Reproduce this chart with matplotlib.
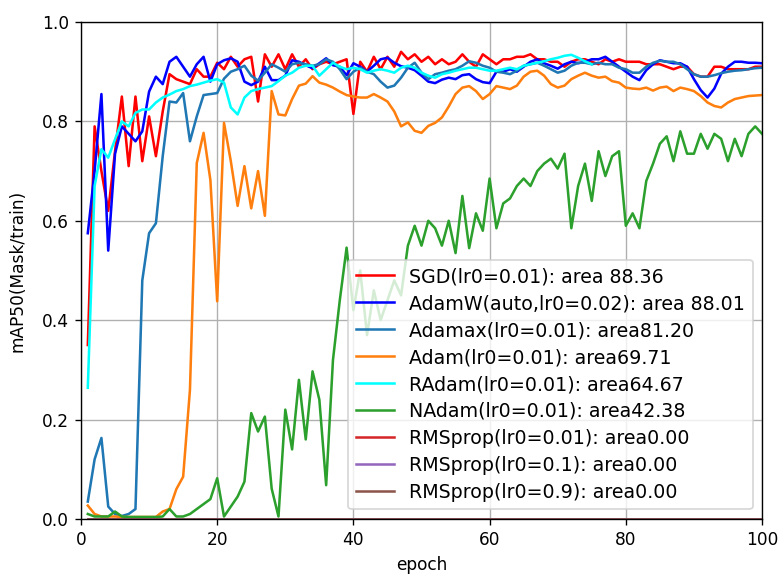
import matplotlib
matplotlib.use("Agg")
import matplotlib.pyplot as plt
import numpy as np

# mAP50(Mask/train) per epoch for each optimizer run
sgd = [0.35, 0.79, 0.70, 0.62, 0.74, 0.85, 0.71, 0.85, 0.72, 0.81,
       0.73, 0.82, 0.895, 0.885, 0.88, 0.875, 0.905, 0.89, 0.89, 0.918,
       0.905, 0.93, 0.91, 0.925, 0.93, 0.84, 0.935, 0.91, 0.935, 0.905,
       0.935, 0.91, 0.925, 0.905, 0.915, 0.92, 0.915, 0.92, 0.925, 0.815,
       0.92, 0.90, 0.93, 0.905, 0.93, 0.91, 0.94, 0.925, 0.935, 0.92,
       0.93, 0.915, 0.925, 0.915, 0.92, 0.935, 0.92, 0.91, 0.935, 0.925,
       0.915, 0.925, 0.925, 0.93, 0.93, 0.935, 0.925, 0.925, 0.92, 0.92,
       0.91, 0.92, 0.925, 0.925, 0.92, 0.915, 0.925, 0.92, 0.925, 0.92,
       0.92, 0.92, 0.915, 0.915, 0.915, 0.91, 0.905, 0.91, 0.91, 0.895,
       0.89, 0.89, 0.91, 0.91, 0.905, 0.905, 0.905, 0.905, 0.91, 0.91]
adamw = [0.575, 0.70, 0.855, 0.54, 0.735, 0.79, 0.775, 0.76, 0.78, 0.86,
         0.89, 0.875, 0.92, 0.93, 0.91, 0.89, 0.915, 0.93, 0.88, 0.915,
         0.923, 0.927, 0.92, 0.88, 0.873, 0.88, 0.91, 0.883, 0.883, 0.892,
         0.923, 0.92, 0.913, 0.907, 0.917, 0.927, 0.913, 0.91, 0.893, 0.917,
         0.91, 0.90, 0.912, 0.925, 0.928, 0.918, 0.911, 0.908, 0.903, 0.892,
         0.88, 0.877, 0.884, 0.888, 0.885, 0.893, 0.895, 0.885, 0.879, 0.877,
         0.90, 0.90, 0.905, 0.90, 0.91, 0.92, 0.925, 0.917, 0.912, 0.906,
         0.915, 0.92, 0.917, 0.92, 0.925, 0.925, 0.93, 0.92, 0.91, 0.90,
         0.89, 0.883, 0.903, 0.915, 0.923, 0.92, 0.917, 0.917, 0.91, 0.885,
         0.863, 0.848, 0.866, 0.896, 0.91, 0.92, 0.92, 0.918, 0.918, 0.917]
adamax = [0.035, 0.12, 0.163, 0.025, 0.01, 0.006, 0.01, 0.02, 0.48, 0.575,
          0.595, 0.73, 0.84, 0.838, 0.857, 0.76, 0.81, 0.853, 0.855, 0.857,
          0.886, 0.90, 0.905, 0.912, 0.892, 0.882, 0.898, 0.915, 0.908, 0.90,
          0.915, 0.918, 0.915, 0.912, 0.915, 0.925, 0.92, 0.905, 0.885, 0.90,
          0.908, 0.90, 0.895, 0.88, 0.868, 0.872, 0.888, 0.908, 0.918, 0.898,
          0.885, 0.895, 0.898, 0.902, 0.905, 0.912, 0.921, 0.918, 0.912, 0.908,
          0.90, 0.898, 0.895, 0.902, 0.912, 0.915, 0.918, 0.912, 0.905, 0.898,
          0.902, 0.912, 0.918, 0.918, 0.915, 0.918, 0.915, 0.915, 0.908, 0.905,
          0.898, 0.898, 0.91, 0.918, 0.922, 0.92, 0.92, 0.915, 0.905, 0.895,
          0.89, 0.89, 0.893, 0.897, 0.90, 0.902, 0.903, 0.905, 0.907, 0.908]
adam = [0.027, 0.01, 0.005, 0.005, 0.005, 0.004, 0.004, 0.004, 0.004, 0.004,
        0.004, 0.015, 0.02, 0.06, 0.085, 0.26, 0.716, 0.777, 0.682, 0.438,
        0.797, 0.72, 0.63, 0.71, 0.625, 0.70, 0.61, 0.861, 0.814, 0.812,
        0.845, 0.872, 0.876, 0.891, 0.878, 0.874, 0.868, 0.86, 0.853, 0.85,
        0.848, 0.848, 0.855, 0.848, 0.84, 0.82, 0.79, 0.798, 0.781, 0.777,
        0.791, 0.797, 0.808, 0.83, 0.855, 0.868, 0.871, 0.861, 0.845, 0.855,
        0.871, 0.868, 0.865, 0.872, 0.89, 0.90, 0.902, 0.892, 0.875, 0.868,
        0.872, 0.885, 0.892, 0.898, 0.892, 0.888, 0.89, 0.881, 0.878, 0.868,
        0.866, 0.865, 0.868, 0.862, 0.868, 0.87, 0.861, 0.868, 0.865, 0.861,
        0.851, 0.838, 0.831, 0.828, 0.838, 0.845, 0.848, 0.851, 0.852, 0.853]
# RAdam stopped after 75 epochs
radam = [0.264, 0.67, 0.744, 0.727, 0.764, 0.80, 0.79, 0.817, 0.824, 0.824,
         0.838, 0.848, 0.854, 0.861, 0.865, 0.871, 0.874, 0.878, 0.882, 0.885,
         0.878, 0.828, 0.814, 0.848, 0.861, 0.865, 0.868, 0.871, 0.881, 0.892,
         0.898, 0.908, 0.912, 0.912, 0.892, 0.905, 0.918, 0.91, 0.905, 0.908,
         0.905, 0.898, 0.902, 0.905, 0.902, 0.898, 0.908, 0.912, 0.908, 0.898,
         0.892, 0.888, 0.895, 0.898, 0.902, 0.905, 0.908, 0.908, 0.905, 0.902,
         0.902, 0.905, 0.908, 0.905, 0.912, 0.915, 0.918, 0.921, 0.925, 0.928,
         0.932, 0.934, 0.928, 0.921, 0.915]
nadam = [0.01, 0.005, 0.005, 0.005, 0.015, 0.005, 0.004, 0.004, 0.004, 0.004,
         0.004, 0.005, 0.02, 0.005, 0.005, 0.01, 0.02, 0.03, 0.04, 0.082,
         0.005, 0.025, 0.045, 0.075, 0.213, 0.176, 0.206, 0.061, 0.005, 0.22,
         0.14, 0.28, 0.16, 0.297, 0.24, 0.068, 0.32, 0.44, 0.546, 0.42,
         0.50, 0.37, 0.46, 0.40, 0.44, 0.48, 0.45, 0.55, 0.59, 0.55,
         0.60, 0.585, 0.55, 0.60, 0.535, 0.65, 0.545, 0.615, 0.58, 0.685,
         0.585, 0.635, 0.645, 0.67, 0.685, 0.67, 0.70, 0.715, 0.725, 0.705,
         0.735, 0.585, 0.67, 0.715, 0.64, 0.74, 0.69, 0.73, 0.74, 0.59,
         0.615, 0.585, 0.68, 0.715, 0.755, 0.77, 0.72, 0.78, 0.735, 0.735,
         0.775, 0.745, 0.775, 0.765, 0.72, 0.765, 0.73, 0.775, 0.79, 0.775]
rms_001 = [0.0] * 100
rms_01 = [0.0] * 100
rms_09 = [0.0] * 100

runs = [
    ("SGD(lr0=0.01): area 88.36", sgd, "red"),
    ("AdamW(auto,lr0=0.02): area 88.01", adamw, "blue"),
    ("Adamax(lr0=0.01): area81.20", adamax, "tab:blue"),
    ("Adam(lr0=0.01): area69.71", adam, "tab:orange"),
    ("RAdam(lr0=0.01): area64.67", radam, "cyan"),
    ("NAdam(lr0=0.01): area42.38", nadam, "tab:green"),
    ("RMSprop(lr0=0.01): area0.00", rms_001, "tab:red"),
    ("RMSprop(lr0=0.1): area0.00", rms_01, "tab:purple"),
    ("RMSprop(lr0=0.9): area0.00", rms_09, "tab:brown"),
]

fig, ax = plt.subplots(figsize=(781 / 122, 576 / 122), dpi=122)
fig.subplots_adjust(left=0.1037, right=0.9757, top=0.9618, bottom=0.099)

for label, vals, color in runs:
    epochs = np.arange(1, len(vals) + 1)
    ax.plot(epochs, vals, color=color, label=label)

ax.set_xlim(0, 100)
ax.set_ylim(0, 1.0)
ax.set_xlabel("epoch")
ax.set_ylabel("mAP50(Mask/train)", labelpad=9)
ax.grid(True)
ax.legend(loc="lower right", fontsize=11.2, labelspacing=0.42)

fig.savefig("out.png", dpi=122)
